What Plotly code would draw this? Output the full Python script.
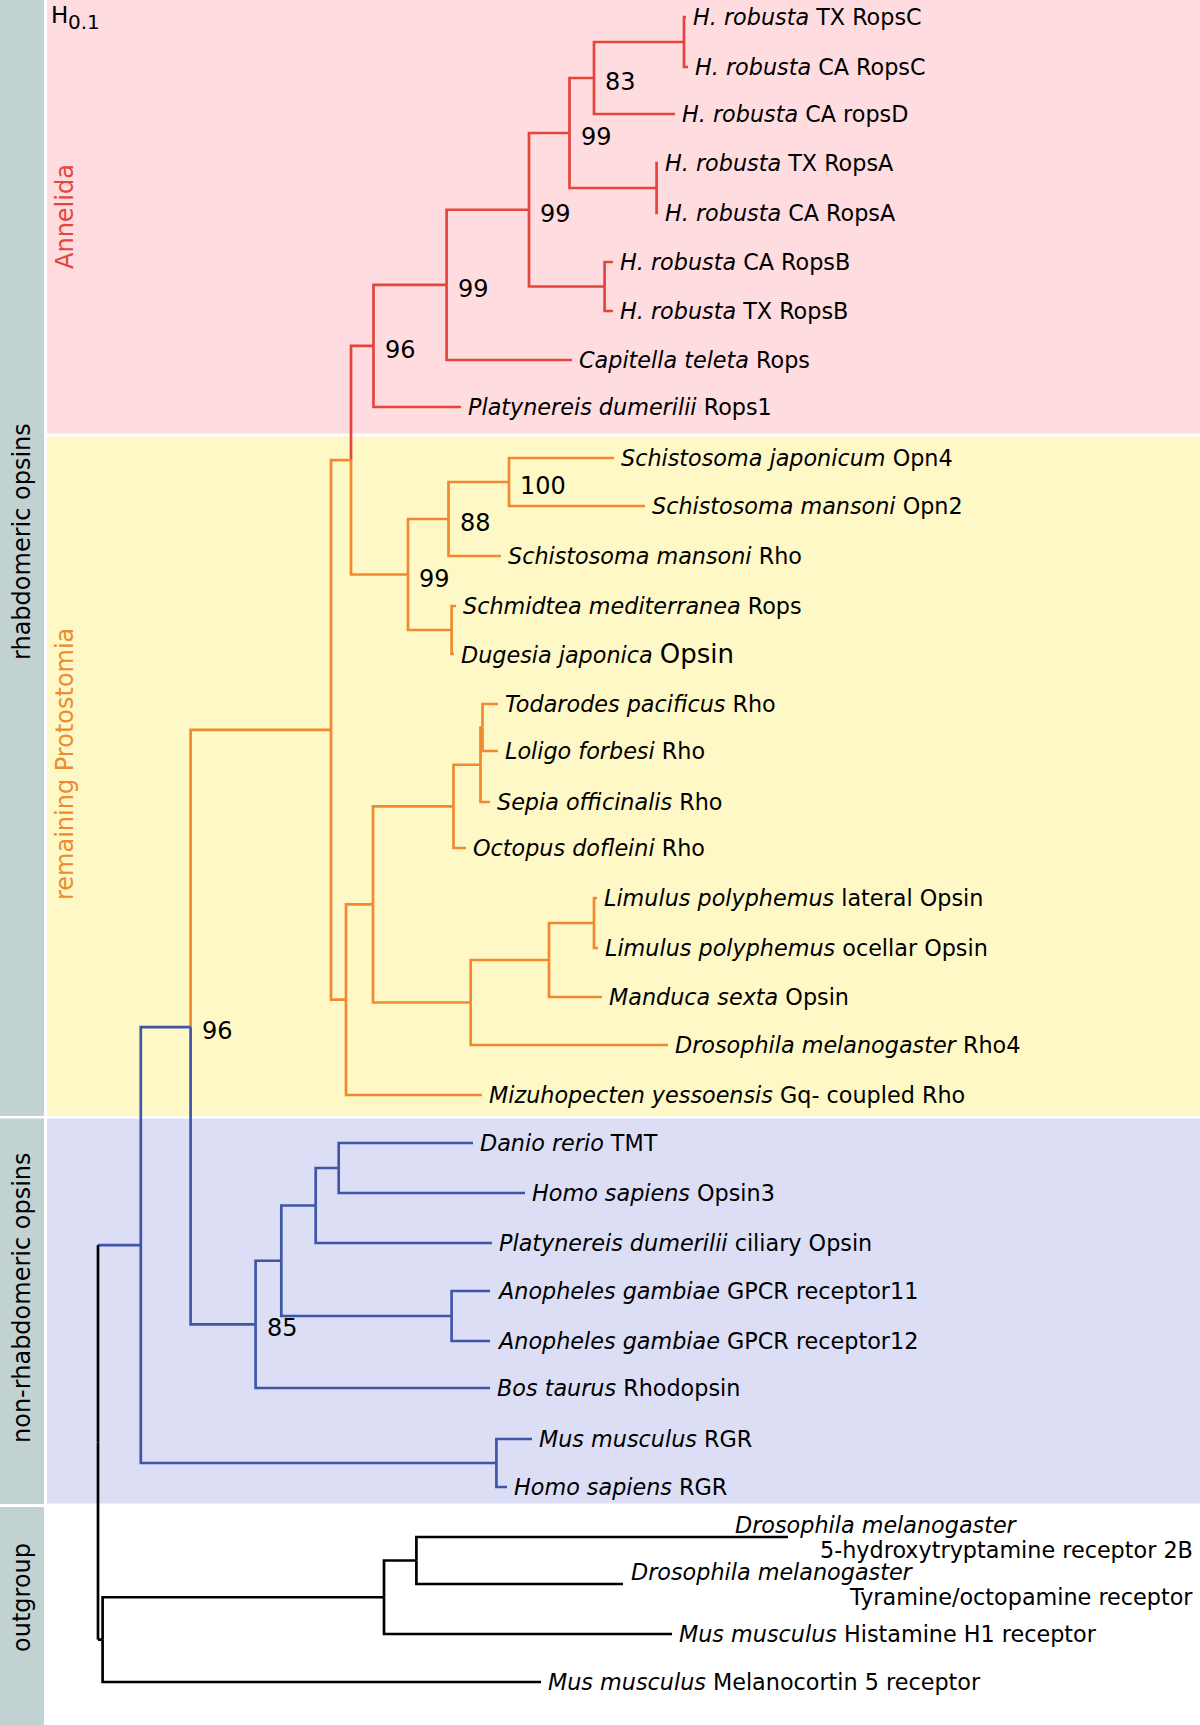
import plotly.graph_objects as go

# ---------------- data ----------------
leaf_ids = ["hTXC", "hCAC", "hCAD", "hTXA", "hCAA", "hCAB", "hTXB", "capT", "plaR",
            "sjO4", "smO2", "smRh", "schR", "dugO", "todR", "lolR", "sepR", "octR",
            "limL", "limO", "manO", "droR4", "mizR",
            "danT", "homO3", "plaC", "ano11", "ano12", "bosR", "musRGR", "homRGR",
            "dro5HT", "droTyr", "musH1", "musMC5"]
leaf_species = ["H. robusta", "H. robusta", "H. robusta", "H. robusta", "H. robusta",
                "H. robusta", "H. robusta", "Capitella teleta", "Platynereis dumerilii",
                "Schistosoma japonicum", "Schistosoma mansoni", "Schistosoma mansoni",
                "Schmidtea mediterranea", "Dugesia japonica", "Todarodes pacificus",
                "Loligo forbesi", "Sepia officinalis", "Octopus dofleini",
                "Limulus polyphemus", "Limulus polyphemus", "Manduca sexta",
                "Drosophila melanogaster", "Mizuhopecten yessoensis",
                "Danio rerio", "Homo sapiens", "Platynereis dumerilii", "Anopheles gambiae",
                "Anopheles gambiae", "Bos taurus", "Mus musculus", "Homo sapiens",
                "Drosophila melanogaster", "Drosophila melanogaster", "Mus musculus",
                "Mus musculus"]
leaf_gene = ["TX RopsC", "CA RopsC", "CA ropsD", "TX RopsA", "CA RopsA", "CA RopsB",
             "TX RopsB", "Rops", "Rops1",
             "Opn4", "Opn2", "Rho", "Rops", "Opsin", "Rho", "Rho", "Rho", "Rho",
             "lateral Opsin", "ocellar Opsin", "Opsin", "Rho4", "Gq- coupled Rho",
             "TMT", "Opsin3", "ciliary Opsin", "GPCR receptor11", "GPCR receptor12",
             "Rhodopsin", "RGR", "RGR",
             "5-hydroxytryptamine receptor 2B", "Tyramine/octopamine receptor",
             "Histamine H1 receptor", "Melanocortin 5 receptor"]
leaf_depth = [686, 688, 675, 658, 658, 613, 613, 572, 461,
              614, 645, 501, 456, 454, 498, 498, 490, 466,
              597, 598, 602, 668, 482,
              473, 525, 492, 490, 490, 490, 532, 507,
              788, 623, 672, 541]
leaf_row = [17, 67, 114, 163, 213, 262, 311, 360, 407,
            458, 506, 556, 606, 654, 704, 751, 802, 848,
            898, 948, 997, 1045, 1095,
            1143, 1193, 1243, 1291, 1341, 1388, 1439, 1487,
            1537, 1584, 1634, 1682]
leaf_group = ["Annelida"] * 9 + ["Protostomia"] * 14 + ["nonrhab"] * 8 + ["outgroup"] * 4

node_ids = ["nRopsC", "n83", "nRopsA", "n99d", "nRopsB", "n99c", "n99b", "n96a",
            "n100", "n88", "nSchDug", "n99f", "nA", "nTL", "nCeph", "nOct", "nLim",
            "nT", "nS", "nR", "nQ", "nP",
            "nD", "nZ", "nAno", "nY", "n85", "n96", "nRGR", "nU",
            "nX", "nW", "nV", "root"]
node_depth = [684, 594, 656.6, 569.5, 604.6, 529, 446.6, 373.5,
              509, 448.5, 451.6, 408, 351, 482.5, 480.5, 453.5, 594,
              549, 470.7, 373, 346, 331,
              338.7, 315.7, 451.6, 281.3, 255.6, 190.6, 496.4, 140.8,
              416.4, 384, 102.6, 98]
node_children = [("hTXC", "hCAC"), ("nRopsC", "hCAD"), ("hTXA", "hCAA"), ("n83", "nRopsA"),
                 ("hCAB", "hTXB"), ("n99d", "nRopsB"), ("n99c", "capT"), ("n99b", "plaR"),
                 ("sjO4", "smO2"), ("n100", "smRh"), ("schR", "dugO"), ("n88", "nSchDug"),
                 ("n96a", "n99f"), ("todR", "lolR"), ("nTL", "sepR"), ("nCeph", "octR"),
                 ("limL", "limO"), ("nLim", "manO"), ("nT", "droR4"), ("nOct", "nS"),
                 ("nR", "mizR"), ("nA", "nQ"),
                 ("danT", "homO3"), ("nD", "plaC"), ("ano11", "ano12"), ("nZ", "nAno"),
                 ("nY", "bosR"), ("nP", "n85"), ("musRGR", "homRGR"), ("n96", "nRGR"),
                 ("dro5HT", "droTyr"), ("nX", "musH1"), ("nW", "musMC5"), ("nU", "nV")]
node_group = ["Annelida"] * 8 + ["Protostomia"] * 14 + ["nonrhab"] * 8 + ["outgroup"] * 4
support_nodes = ["n83", "n99d", "n99c", "n99b", "n96a", "n100", "n88", "n99f", "n96", "n85"]
support_values = ["83", "99", "99", "99", "96", "100", "88", "99", "96", "85"]

group_names = ["Annelida", "remaining Protostomia", "rhabdomeric opsins",
               "non-rhabdomeric opsins", "outgroup"]
scale_label = ["H", "0.1"]

# ---------------- style ----------------
FONT = "DejaVu Sans"
COL = {"Annelida": "#e5453a", "Protostomia": "#ef8a2e", "nonrhab": "#3f55a8", "outgroup": "#000000"}
PINK, YELLOW, LAV, GRAY = "#fedcdf", "#fef8c6", "#dcdef6", "#c2d2d2"
LW = 2.7

# ---------------- tree geometry ----------------
X, Y, C = {}, {}, {}
for i, lid in enumerate(leaf_ids):
    X[lid] = leaf_depth[i]
    Y[lid] = leaf_row[i]
    C[lid] = COL[leaf_group[i]]
children = {}
for i, nid in enumerate(node_ids):
    X[nid] = node_depth[i]
    C[nid] = COL[node_group[i]]
    children[nid] = node_children[i]


def ypos(n):
    if n in Y:
        return Y[n]
    a, b = children[n]
    Y[n] = (ypos(a) + ypos(b)) / 2
    return Y[n]


for nid in node_ids:
    ypos(nid)

segs = {}  # color -> (xs, ys)


def add(color, xs, ys):
    s = segs.setdefault(color, ([], []))
    s[0].extend(xs + [None])
    s[1].extend(ys + [None])


for nid in node_ids:
    for ch in children[nid]:
        if nid == "root":
            add(C[nid], [X[nid], X[nid]], [Y[nid], Y[ch]])
            add(C[ch], [X[nid], X[ch]], [Y[ch], Y[ch]])
        else:
            add(C[ch], [X[nid], X[nid], X[ch]], [Y[nid], Y[ch], Y[ch]])

fig = go.Figure()
for color, (xs, ys) in segs.items():
    fig.add_trace(go.Scatter(x=xs, y=ys, mode="lines",
                             line=dict(color=color, width=LW),
                             hoverinfo="skip", showlegend=False))

# ---------------- backgrounds ----------------
shapes = []


def rect(x0, x1, y0, y1, color):
    shapes.append(dict(type="rect", xref="x", yref="y", x0=x0, x1=x1, y0=y0, y1=y1,
                       fillcolor=color, line=dict(width=0), layer="below"))


rect(47, 1200, 0, 433.5, PINK)
rect(47, 1200, 436.5, 1116, YELLOW)
rect(47, 1200, 1118.5, 1503.5, LAV)
rect(0, 44, 0, 1116, GRAY)
rect(0, 44, 1118.5, 1504, GRAY)
rect(0, 44, 1507, 1725, GRAY)

# ---------------- text ----------------
ann = []
LEAF_SIZE = 22.3
for i, lid in enumerate(leaf_ids):
    sp, gene = leaf_species[i], leaf_gene[i]
    if lid in ("dro5HT", "droTyr"):
        x0 = X[lid] - 55 if lid == "dro5HT" else X[lid] + 6
        ann.append(dict(x=x0, y=Y[lid] - 12, text="<i>%s</i>" % sp, xanchor="left",
                        yanchor="middle", showarrow=False,
                        font=dict(family=FONT, size=LEAF_SIZE, color="black")))
        ann.append(dict(x=1195, y=Y[lid] + 13, text=gene, xanchor="right",
                        yanchor="middle", showarrow=False,
                        font=dict(family=FONT, size=LEAF_SIZE, color="black")))
        continue
    if lid == "dugO":
        txt = "<i>%s</i> <span style='font-size:26px'>%s</span>" % (sp, gene)
    else:
        txt = "<i>%s</i> %s" % (sp, gene)
    ann.append(dict(x=X[lid] + 5, y=Y[lid], text=txt, xanchor="left", yanchor="middle",
                    showarrow=False, font=dict(family=FONT, size=LEAF_SIZE, color="black")))

for nid, val in zip(support_nodes, support_values):
    ann.append(dict(x=X[nid] + 9, y=Y[nid] + 4, text=val, xanchor="left", yanchor="middle",
                    showarrow=False, font=dict(family=FONT, size=24, color="black")))

side = [(group_names[0], 65, 217, COL["Annelida"]),
        (group_names[1], 65, 764, COL["Protostomia"]),
        (group_names[2], 22, 542, "black"),
        (group_names[3], 22, 1298, "black"),
        (group_names[4], 22, 1598, "black")]
for t, x, y, c in side:
    ann.append(dict(x=x, y=y, text=t, textangle=-90, xanchor="center", yanchor="middle",
                    showarrow=False, font=dict(family=FONT, size=24, color=c)))

ann.append(dict(x=49, y=15, text=scale_label[0], xanchor="left", yanchor="middle",
                showarrow=False, font=dict(family=FONT, size=23, color="black")))
ann.append(dict(x=66, y=22, text=scale_label[1], xanchor="left", yanchor="middle",
                showarrow=False, font=dict(family=FONT, size=20, color="black")))

fig.update_layout(
    width=1200, height=1725, margin=dict(l=0, r=0, t=0, b=0),
    paper_bgcolor="white", plot_bgcolor="white",
    xaxis=dict(range=[0, 1200], visible=False, fixedrange=True),
    yaxis=dict(range=[1725, 0], visible=False, fixedrange=True),
    shapes=shapes, annotations=ann, showlegend=False,
)
fig.write_html("out.html", config={"displayModeBar": False},
               post_script="document.body.style.margin='0';document.body.style.overflow='hidden';")
